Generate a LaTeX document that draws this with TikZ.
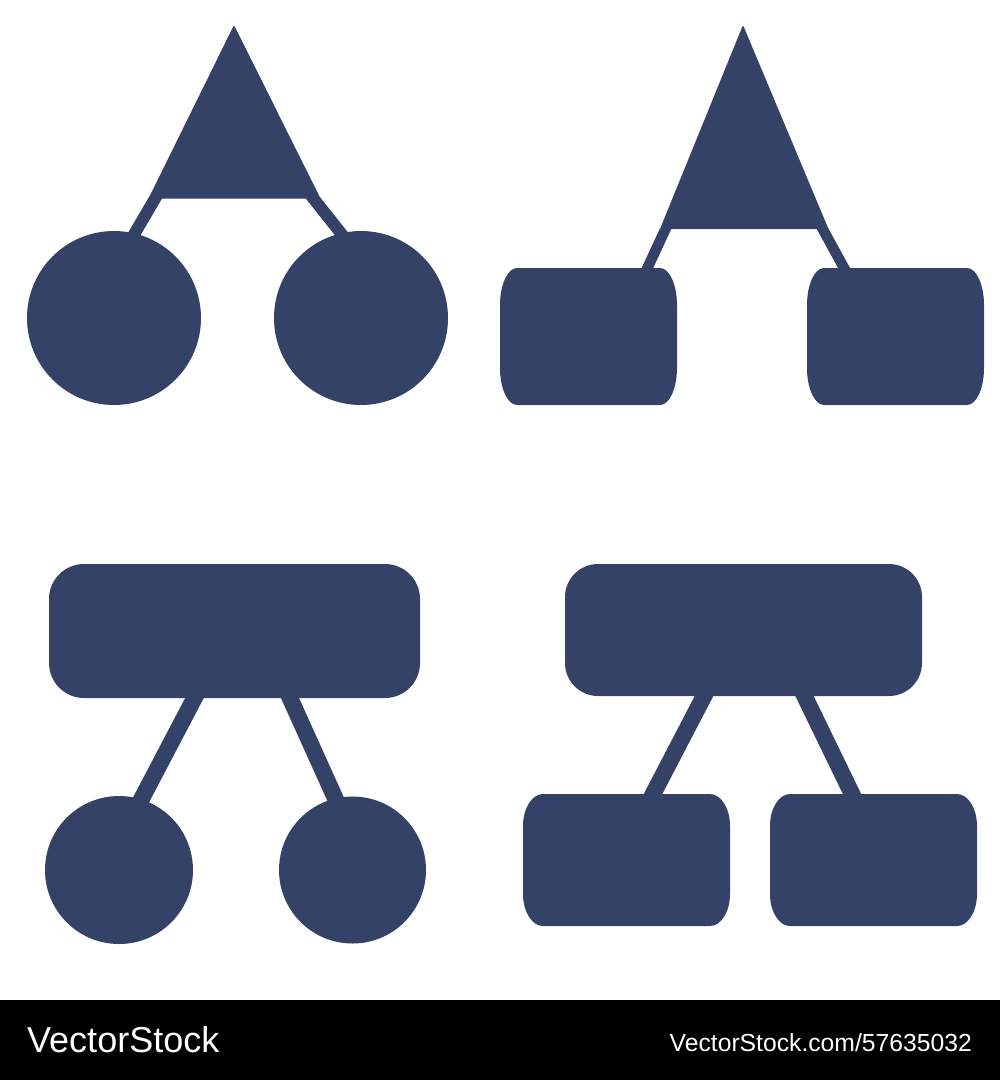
\documentclass[tikz,border=0pt]{standalone}
\usepackage{fontspec}
\setmainfont{Liberation Sans}
\definecolor{navy}{RGB}{53,66,104}
\newcommand\barrelshape[7]{% name x1 y1 x2 y2 rx ry
  \fill[navy] (#2+#6,#3) -- (#4-#6,#3)
    arc[start angle=270,end angle=360,x radius=#6,y radius=#7] -- (#4,#5-#7)
    arc[start angle=0,end angle=90,x radius=#6,y radius=#7] -- (#2+#6,#5)
    arc[start angle=90,end angle=180,x radius=#6,y radius=#7] -- (#2,#3+#7)
    arc[start angle=180,end angle=270,x radius=#6,y radius=#7] -- cycle;
  \coordinate (#1) at ({(#2+#4)/2},{(#3+#5)/2});}
\begin{document}
\begin{tikzpicture}[x=1pt,y=-1pt,
  link/.style={draw=navy,line cap=butt},
  thinlink/.style={link,line width=12pt},
  midlink/.style={link,line width=10.5pt},
  thicklink/.style={link,line width=16.5pt},
  ball/.style={circle,fill=navy,inner sep=0pt,outer sep=0pt},
  slab/.style={rectangle,fill=navy,inner sep=0pt,outer sep=0pt},
  tri/.style={fill=navy}]
\useasboundingbox (0,0) rectangle (1000,1080);
\fill[white] (0,0) rectangle (1000,1000);
\fill[black] (0,1000) rectangle (1000,1080);

% ---------- top left: triangle and two circles ----------
\coordinate (tlA1) at (163,185);
\coordinate (tlB1) at (124.9,250);
\coordinate (tlA2) at (302.7,185);
\coordinate (tlB2) at (354.3,250);
\begin{scope}
  \clip (0,197.5) rectangle (500,300);
  \draw[thinlink] (tlA1) -- (tlB1);
  \draw[thinlink] (tlA2) -- (tlB2);
\end{scope}
\coordinate (tlApex) at (234,25);
\coordinate (tlBL) at (148.5,198.5);
\coordinate (tlBR) at (320.5,198.5);
\fill[tri] (tlBL) [rounded corners=2pt] -- (tlApex) [sharp corners] -- (tlBR) -- cycle;
\node[ball,minimum size=174pt] (tlC1) at (114,318) {};
\node[ball,minimum size=174pt] (tlC2) at (361,318) {};

% ---------- top right: triangle and two barrels ----------
\coordinate (trA1) at (672,215);
\coordinate (trB1) at (639.5,285);
\coordinate (trA2) at (815,215);
\coordinate (trB2) at (853.4,285);
\begin{scope}
  \clip (500,228.5) rectangle (1000,300);
  \draw[midlink] (trA1) -- (trB1);
  \draw[midlink] (trA2) -- (trB2);
\end{scope}
\coordinate (trApex) at (743,25);
\coordinate (trBL) at (660,229);
\coordinate (trBR) at (828.5,229);
\fill[tri] (trBL) [rounded corners=2pt] -- (trApex) [sharp corners] -- (trBR) -- cycle;
\barrelshape{trR1}{500}{268}{677}{405}{17}{37}
\barrelshape{trR2}{807}{268}{984}{405}{17}{37}

% ---------- bottom left: bar and two circles ----------
\coordinate (blA1) at (201.3,685);
\coordinate (blB1) at (133.1,815);
\coordinate (blA2) at (284.1,685);
\coordinate (blB2) at (342.8,815);
\draw[thicklink] (blA1) -- (blB1);
\draw[thicklink] (blA2) -- (blB2);
\node[slab,rounded corners=35pt,minimum width=371pt,minimum height=134pt] (blTop) at (234.5,631) {};
\node[ball,minimum size=148pt] (blC1) at (119,870) {};
\node[ball,minimum size=147pt] (blC2) at (352.5,870) {};

% ---------- bottom right: bar and two barrels ----------
\coordinate (brA1) at (710.8,683);
\coordinate (brB1) at (644.7,810);
\coordinate (brA2) at (798.2,683);
\coordinate (brB2) at (859.8,810);
\draw[thicklink] (brA1) -- (brB1);
\draw[thicklink] (brA2) -- (brB2);
\node[slab,rounded corners=33pt,minimum width=357pt,minimum height=132pt] (brTop) at (743.5,630) {};
\barrelshape{brR1}{523}{794}{730}{926}{20}{32}
\barrelshape{brR2}{770}{794}{977}{926}{20}{32}

% ---------- footer ----------
\node[anchor=base west,inner sep=0pt,text=white,font=\fontsize{36}{36}\selectfont] (logo) at (27,1052) {VectorStock};
\node[anchor=base east,inner sep=0pt,text=white,font=\fontsize{24.7}{24.7}\selectfont] (ref) at (972,1051) {VectorStock.com/57635032};
\end{tikzpicture}
\end{document}
